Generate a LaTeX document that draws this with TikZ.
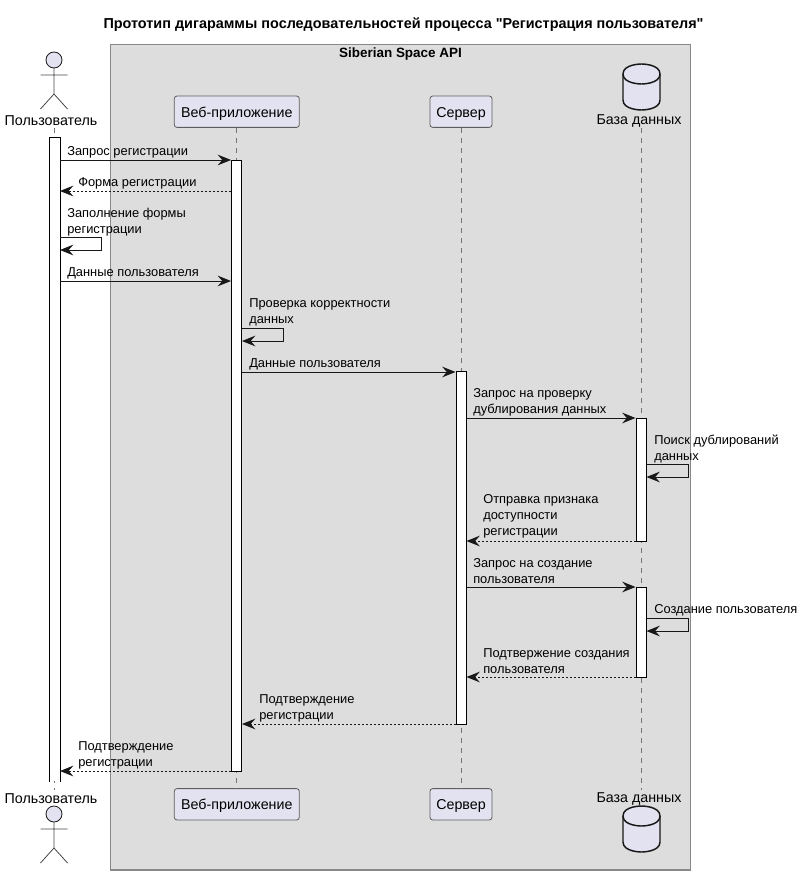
\documentclass[tikz,border=0pt]{standalone}
\usepackage{fontspec}
\setmainfont{Liberation Sans}[Ligatures=TeXOff]
\usepackage{tikz}
\usetikzlibrary{arrows.meta,positioning,calc}

\definecolor{partfill}{HTML}{E2E2F0}
\definecolor{partline}{HTML}{181818}
\definecolor{boxfill}{HTML}{DDDDDD}
\definecolor{boxline}{HTML}{888888}

\begin{document}
\begin{tikzpicture}[
    x=0.75pt,
    y=-0.75pt,
    >={Stealth[length=10pt,width=8pt,inset=3.5pt]},
    titlelabel/.style={
        inner sep=0pt,
        font=\bfseries\fontsize{10.8}{12}\selectfont
    },
    boxlabel/.style={
        inner sep=0pt,
        font=\bfseries\fontsize{10.1}{12}\selectfont
    },
    part/.style={
        draw=partline!70,
        line width=0.6pt,
        rounded corners=2pt,
        fill=partfill,
        inner sep=0pt,
        minimum height=23.5pt,
        text height=9pt,
        text depth=1pt,
        font=\fontsize{10.7}{12}\selectfont
    },
    partlabel/.style={
        inner sep=0pt,
        font=\fontsize{10.7}{12}\selectfont
    },
    msglabel/.style={
        inner sep=0pt,
        anchor=west,
        align=left,
        font=\fontsize{9.65}{12}\selectfont
    },
    actbar/.style={
        draw=black,
        line width=0.75pt,
        fill=white,
        inner sep=0pt,
        minimum width=7.5pt
    },
    lifeline/.style={boxline!85!black, line width=0.6pt, dash pattern=on 3.75pt off 3.75pt},
    msg/.style={->, partline, line width=0.75pt},
    reply/.style={->, partline, line width=0.75pt, dash pattern=on 1.5pt off 1.5pt},
    pics/actoricon/.style={
        code={
            \draw[partline, line width=0.6pt, fill=partfill] (0,-8) circle[radius=6pt];
            \draw[partline!80, line width=0.6pt]
                (0,0) -- (0,26)
                (-13.5,7) -- (13.5,7)
                (-13.5,41) -- (0,26) -- (13.5,41);
        }
    },
    pics/dbicon/.style={
        code={
            \draw[partline, line width=1.1pt, fill=partfill]
                (-18.5,-13) .. controls (-18.5,-23) and (0,-23) .. (0,-23)
                .. controls (0,-23) and (18.5,-23) .. (18.5,-13)
                -- (18.5,13) .. controls (18.5,23) and (0,23) .. (0,23)
                .. controls (0,23) and (-18.5,23) .. (-18.5,13) -- cycle;
            \draw[partline, line width=1.1pt]
                (-18.5,-13) .. controls (-18.5,-3) and (0,-3) .. (0,-3)
                .. controls (0,-3) and (18.5,-3) .. (18.5,-13);
        }
    }
]

\useasboundingbox (0,0) rectangle (802,874);

% Title and API box

\node[titlelabel] (title) at (403.5,25)
    {Прототип дигараммы последовательностей процесса "Регистрация пользователя"};

\node[
    draw=boxline,
    fill=boxfill,
    line width=0.8pt,
    inner sep=0pt,
    minimum width=435pt,
    minimum height=619pt
] (apibox) at (400.5,457.3) {};

\node[boxlabel] (apilabel) at (400.5,54) {Siberian Space API};

% Participants, top row

\coordinate (usertop) at (54,68);
\pic at (usertop) {actoricon};
\node[partlabel] (userhead) at (51,121) {Пользователь};

\node[part, minimum width=93.75pt] (webhead) at (236.8,111.7) {Веб-приложение};
\node[part, minimum width=46.5pt] (serverhead) at (461,111.7) {Сервер};

\coordinate (dbtop) at (641.5,87);
\pic at (dbtop) {dbicon};
\node[partlabel] (dbhead) at (639,121) {База данных};

% Participants, bottom row

\node[partlabel] (userfoot) at (51,799) {Пользователь};
\coordinate (userbottom) at (54,822);
\pic at (userbottom) {actoricon};

\node[part, minimum width=93.75pt] (webfoot) at (236.8,804.3) {Веб-приложение};
\node[part, minimum width=46.5pt] (serverfoot) at (461,804.3) {Сервер};

\node[partlabel] (dbfoot) at (639,799) {База данных};
\coordinate (dbbottom) at (641.5,829);
\pic at (dbbottom) {dbicon};

% Lifelines

\coordinate (userlifetop) at (54,128);
\coordinate (userlifeend) at (54,790);
\coordinate (dblifetop) at (641.5,128);
\coordinate (dblifeend) at (641.5,790);

\draw[lifeline] (userlifetop) -- (userlifeend);
\draw[lifeline] (webhead.south) -- (webfoot.north);
\draw[lifeline] (serverhead.south) -- (serverfoot.north);
\draw[lifeline] (dblifetop) -- (dblifeend);

% Activation bars

\node[actbar, draw=none, minimum height=482.25pt] (useract) at (54.5,459.5) {};
\draw[line width=0.75pt]
    (useract.south west) -- (useract.north west) -- (useract.north east) -- (useract.south east);

\node[actbar, minimum height=458.25pt] (webact) at (236.5,466) {};
\node[actbar, minimum height=264.4pt] (serveract) at (461,547.75) {};
\node[actbar, minimum height=92.25pt] (dbfirst) at (641,479.5) {};
\node[actbar, minimum height=67.5pt] (dbsecond) at (641,632) {};

% Message rows

\coordinate (rowa) at (0,160);
\coordinate (rowb) at (0,191);
\coordinate (rowc) at (0,281);
\coordinate (rowd) at (0,372);
\coordinate (rowe) at (0,418);
\coordinate (rowf) at (0,541);
\coordinate (rowg) at (0,587);
\coordinate (rowh) at (0,677);
\coordinate (rowi) at (0,724);
\coordinate (rowj) at (0,771);

% Self message corners

\coordinate (fillout) at (101.5,237);
\coordinate (fillback) at (101.5,250);
\coordinate (checkout) at (283.5,328);
\coordinate (checkback) at (283.5,341);
\coordinate (searchout) at (688.5,464);
\coordinate (searchback) at (688.5,477);
\coordinate (createout) at (688.5,618);
\coordinate (createback) at (688.5,631);

% Messages

\draw[msg] (useract.east |- rowa) -- (webact.west |- rowa);
\node[msglabel] (msga) at (67,152.5) {Запрос регистрации};

\draw[reply] (webact.west |- rowb) -- (useract.east |- rowb);
\node[msglabel] (msgb) at (78,183) {Форма регистрации};

\draw[msg] (useract.east |- fillout) -- (fillout) -- (fillback) -- (useract.east |- fillback);
\node[msglabel] (msgc) at (67,222) {Заполнение формы\\регистрации};

\draw[msg] (useract.east |- rowc) -- (webact.west |- rowc);
\node[msglabel] (msgd) at (67,273) {Данные пользователя};

\draw[msg] (webact.east |- checkout) -- (checkout) -- (checkback) -- (webact.east |- checkback);
\node[msglabel] (msge) at (249,312) {Проверка корректности\\данных};

\draw[msg] (webact.east |- rowd) -- (serveract.west |- rowd);
\node[msglabel] (msgf) at (249,364) {Данные пользователя};

\draw[msg] (serveract.east |- rowe) -- (dbfirst.west |- rowe);
\node[msglabel] (msgg) at (473,402) {Запрос на проверку\\дублирования данных};

\draw[msg] (dbfirst.east |- searchout) -- (searchout) -- (searchback) -- (dbfirst.east |- searchback);
\node[msglabel] (msgh) at (654,449) {Поиск дублирований\\данных};

\draw[reply] (dbfirst.west |- rowf) -- (serveract.east |- rowf);
\node[msglabel] (msgi) at (483,516.5) {Отправка признака\\доступности\\регистрации};

\draw[msg] (serveract.east |- rowg) -- (dbsecond.west |- rowg);
\node[msglabel] (msgj) at (473,571.5) {Запрос на создание\\пользователя};

\draw[msg] (dbsecond.east |- createout) -- (createout) -- (createback) -- (dbsecond.east |- createback);
\node[msglabel] (msgk) at (654,610) {Создание пользователя};

\draw[reply] (dbsecond.west |- rowh) -- (serveract.east |- rowh);
\node[msglabel] (msgl) at (483,661) {Подтвержение создания\\пользователя};

\draw[reply] (serveract.west |- rowi) -- (webact.east |- rowi);
\node[msglabel] (msgm) at (259,708) {Подтверждение\\регистрации};

\draw[reply] (webact.west |- rowj) -- (useract.east |- rowj);
\node[msglabel] (msgn) at (78,755) {Подтверждение\\регистрации};

\end{tikzpicture}
\end{document}
